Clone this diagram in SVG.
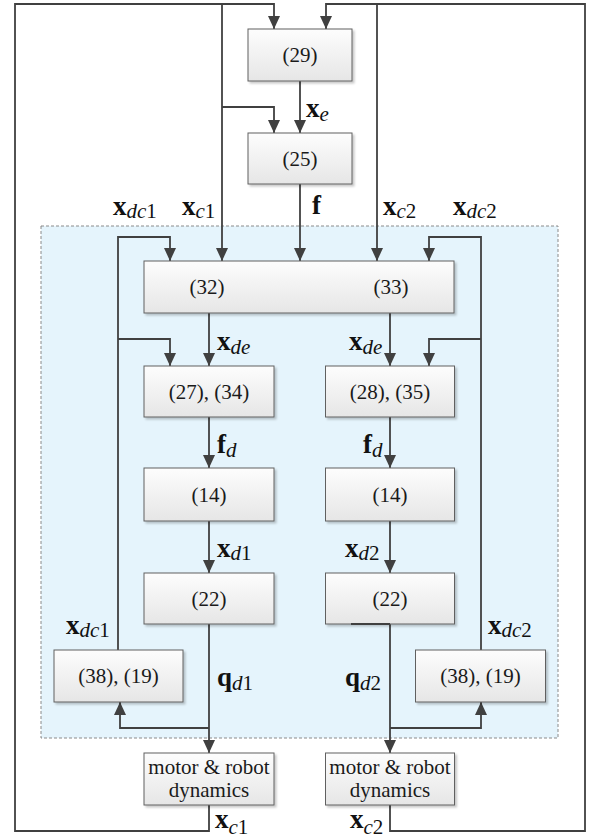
<svg xmlns="http://www.w3.org/2000/svg" width="590" height="838" viewBox="0 0 590 838">
<style>
.box{stroke:#606060;stroke-width:1;fill:url(#g);filter:url(#sh)}
.bt{font-family:'Liberation Serif','Times New Roman',serif;font-size:21px;fill:#1a1a1a;text-anchor:middle}
.c{fill:none;stroke:#404040;stroke-width:1.8}
.a{marker-end:url(#ah)}
.l{font-family:'Liberation Serif','Times New Roman',serif;font-size:27px;font-weight:bold;fill:#111}
.s{font-size:21px;font-weight:normal;font-style:italic}
.n{font-size:21px;font-weight:normal;font-style:normal}
</style>
<defs>
<linearGradient id="g" x1="0" y1="0" x2="0" y2="1">
<stop offset="0" stop-color="#fdfdfd"/>
<stop offset="1" stop-color="#e6e6e6"/>
</linearGradient>
<filter id="sh" x="-10%" y="-10%" width="130%" height="140%">
<feDropShadow dx="2" dy="2" stdDeviation="1.2" flood-color="#000" flood-opacity="0.22"/>
</filter>
<marker id="ah" markerUnits="userSpaceOnUse" viewBox="-1 -7 15 14" markerWidth="15" markerHeight="14" refX="13" refY="0" orient="auto">
<path d="M0,-6 L13,0 L0,6 z" fill="#404040"/>
</marker>
</defs>
<rect width="590" height="838" fill="#fff"/>
<g id="region">
<rect x="41" y="226" width="517" height="512" fill="#e5f4fc" stroke="#8a8a8a" stroke-width="1" stroke-dasharray="3,2"/>
</g>
<g id="connectors">
<path class="c a" d="M209,805 V831 H15 V4 H274 V29"/>
<path class="c a" d="M222,4 V261"/>
<path class="c a" d="M222,107 H274 V133"/>
<path class="c a" d="M390,805 V831 H585 V4 H326 V29"/>
<path class="c a" d="M377,4 V261"/>
<path class="c a" d="M300,81 V133"/>
<path class="c a" d="M300,184 V261"/>
<path class="c a" d="M118,650 V237 H170 V261"/>
<path class="c a" d="M118,339 H170 V366"/>
<path class="c a" d="M481,650 V237 H429 V261"/>
<path class="c a" d="M481,339 H429 V366"/>
<path class="c a" d="M209,313 V366"/>
<path class="c a" d="M390,313 V366"/>
<path class="c a" d="M209,417 V468"/>
<path class="c a" d="M390,417 V468"/>
<path class="c a" d="M209,521 V573"/>
<path class="c a" d="M390,521 V573"/>
<path class="c a" d="M209,624 V753"/>
<path class="c a" d="M390,624 V753"/>
<path class="c a" d="M209,728 H120 V702"/>
<path class="c a" d="M390,728 H481 V702"/>
</g>
<g id="n29"><rect class="box" x="248" y="29" width="104" height="52"/><text class="bt" x="300" y="62">(29)</text></g>
<g id="n25"><rect class="box" x="248" y="133" width="104" height="51"/><text class="bt" x="300" y="166">(25)</text></g>
<g id="n3233"><rect class="box" x="144" y="261" width="310" height="52"/><text class="bt" x="207" y="294">(32)</text><text class="bt" x="391" y="294">(33)</text></g>
<g id="n2734"><rect class="box" x="144" y="366" width="130" height="51"/><text class="bt" x="209" y="399">(27), (34)</text></g>
<g id="n2835"><rect class="box" x="325.5" y="366" width="129" height="51"/><text class="bt" x="390" y="399">(28), (35)</text></g>
<g id="n14a"><rect class="box" x="144" y="468" width="130" height="53"/><text class="bt" x="209" y="502">(14)</text></g>
<g id="n14b"><rect class="box" x="325.5" y="468" width="129" height="53"/><text class="bt" x="390" y="502">(14)</text></g>
<g id="n22a"><rect class="box" x="144" y="573" width="130" height="51"/><text class="bt" x="209" y="606">(22)</text></g>
<g id="n22b"><rect class="box" x="325.5" y="573" width="129" height="51"/><text class="bt" x="390" y="606">(22)</text><path d="M351,624 H390" stroke="#404040" stroke-width="1.8"/></g>
<g id="n3819a"><rect class="box" x="54" y="650" width="129" height="52"/><text class="bt" x="118.5" y="683">(38), (19)</text></g>
<g id="n3819b"><rect class="box" x="415.5" y="650" width="130" height="52"/><text class="bt" x="480.5" y="683">(38), (19)</text></g>
<g id="motor1"><rect class="box" x="144" y="753" width="130" height="52"/><text class="bt" x="209" y="774">motor &amp; robot</text><text class="bt" x="209" y="797">dynamics</text></g>
<g id="motor2"><rect class="box" x="325.5" y="753" width="129" height="52"/><text class="bt" x="390" y="774">motor &amp; robot</text><text class="bt" x="390" y="797">dynamics</text></g>
<g id="labels">
<text class="l" x="306" y="117">x<tspan class="s" dy="4">e</tspan></text>
<text class="l" x="312" y="214">f</text>
<text class="l" x="113" y="215">x<tspan class="s" dy="3">dc</tspan><tspan class="n">1</tspan></text>
<text class="l" x="182" y="215">x<tspan class="s" dy="3">c</tspan><tspan class="n">1</tspan></text>
<text class="l" x="383" y="215">x<tspan class="s" dy="3">c</tspan><tspan class="n">2</tspan></text>
<text class="l" x="453" y="215">x<tspan class="s" dy="3">dc</tspan><tspan class="n">2</tspan></text>
<text class="l" x="217" y="350">x<tspan class="s" dy="4">de</tspan></text>
<text class="l" x="349" y="350">x<tspan class="s" dy="4">de</tspan></text>
<text class="l" x="217" y="453">f<tspan class="s" dy="4">d</tspan></text>
<text class="l" x="363" y="453">f<tspan class="s" dy="4">d</tspan></text>
<text class="l" x="217" y="557">x<tspan class="s" dy="3">d</tspan><tspan class="n">1</tspan></text>
<text class="l" x="345" y="557">x<tspan class="s" dy="3">d</tspan><tspan class="n">2</tspan></text>
<text class="l" x="66" y="634">x<tspan class="s" dy="3">dc</tspan><tspan class="n">1</tspan></text>
<text class="l" x="488" y="634">x<tspan class="s" dy="3">dc</tspan><tspan class="n">2</tspan></text>
<text class="l" x="217" y="686">q<tspan class="s" dy="4">d</tspan><tspan class="n">1</tspan></text>
<text class="l" x="345" y="686">q<tspan class="s" dy="4">d</tspan><tspan class="n">2</tspan></text>
<text class="l" x="215" y="828">x<tspan class="s" dy="6">c</tspan><tspan class="n">1</tspan></text>
<text class="l" x="350" y="828">x<tspan class="s" dy="6">c</tspan><tspan class="n">2</tspan></text>
</g>
</svg>
